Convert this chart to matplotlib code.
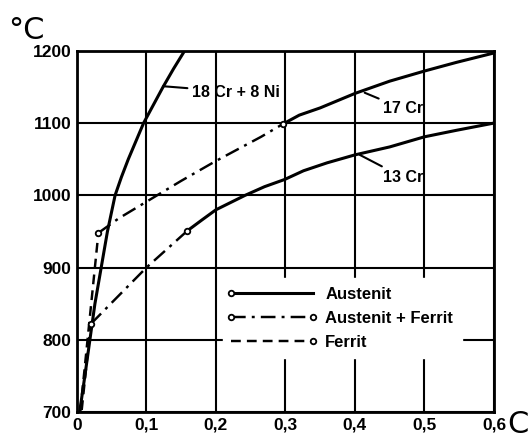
import matplotlib
matplotlib.use("Agg")
import matplotlib.pyplot as plt
from matplotlib.lines import Line2D
from matplotlib.legend_handler import HandlerBase

plt.rcParams['font.family'] = ['Liberation Sans', 'DejaVu Sans']

# 18 Cr + 8 Ni (austenit only)
cr18_x = [0.004, 0.0115, 0.026, 0.035, 0.044, 0.055, 0.064, 0.074, 0.085, 0.096, 0.11, 0.124, 0.139, 0.155]
cr18_y = [700, 750, 850, 900, 950, 1000, 1025, 1050, 1075, 1100, 1125, 1150, 1175, 1200]

# 17 Cr
cr17_ferrit_x = [0.005, 0.031]
cr17_ferrit_y = [702, 948]
cr17_af_x = [0.031, 0.06, 0.105, 0.150, 0.199, 0.23, 0.265, 0.297]
cr17_af_y = [948, 968, 994, 1020, 1047, 1063, 1081, 1099]
cr17_aus_x = [0.297, 0.32, 0.35, 0.4, 0.45, 0.5, 0.546, 0.6]
cr17_aus_y = [1099, 1111, 1121, 1141, 1158, 1172, 1184, 1197]

# 13 Cr
cr13_ferrit_x = [0.007, 0.02]
cr13_ferrit_y = [703, 822]
cr13_af_x = [0.02, 0.1, 0.159]
cr13_af_y = [822, 900, 951]
cr13_aus_x = [0.159, 0.18, 0.2, 0.242, 0.27, 0.299, 0.326, 0.36, 0.4, 0.45, 0.5, 0.546, 0.6]
cr13_aus_y = [951, 966, 980, 1000, 1012, 1022, 1034, 1045, 1056, 1067, 1081, 1090, 1100]

xticks = [0, 0.1, 0.2, 0.3, 0.4, 0.5, 0.6]
xlabels = ["0", "0,1", "0,2", "0,3", "0,4", "0,5", "0,6"]
yticks = [700, 800, 900, 1000, 1100, 1200]

lw = 2.2
dashdot = (0, (6, 2.5, 1.2, 2.5))
dashed = (0, (4, 2.5))
mk = dict(marker='o', markersize=4, markerfacecolor='white', markeredgecolor='black', markeredgewidth=1.3)


class EndMarkerHandler(HandlerBase):
    # legend line with open circles only at the chosen ends (0 = left, 1 = right)
    def __init__(self, ends):
        super().__init__()
        self.ends = ends

    def create_artists(self, legend, orig_handle, xdescent, ydescent, width, height, fontsize, trans):
        x0, x1 = -xdescent, width - xdescent
        y = height / 2 - ydescent
        line = Line2D([x0, x1], [y, y], color='black', lw=orig_handle.get_linewidth())
        line.update_from(orig_handle)
        xs = [x0 if e == 0 else x1 for e in self.ends]
        marks = Line2D(xs, [y] * len(xs), linestyle='none', **mk)
        line.set_transform(trans)
        marks.set_transform(trans)
        return [line, marks]


fig = plt.figure(figsize=(5.30, 4.38), dpi=100)
ax = fig.add_axes([0.145, 0.059, 0.787, 0.825])

ax.plot(cr18_x, cr18_y, color='black', lw=lw)

ax.plot(cr17_ferrit_x, cr17_ferrit_y, color='black', lw=lw * 0.8, linestyle=dashed)
ax.plot(cr17_af_x, cr17_af_y, color='black', lw=lw * 0.8, linestyle=dashdot)
ax.plot(cr17_aus_x, cr17_aus_y, color='black', lw=lw)
ax.plot(cr17_af_x[::len(cr17_af_x) - 1], cr17_af_y[::len(cr17_af_y) - 1], linestyle='none', zorder=4, **mk)

ax.plot(cr13_ferrit_x, cr13_ferrit_y, color='black', lw=lw * 0.8, linestyle=dashed)
ax.plot(cr13_af_x, cr13_af_y, color='black', lw=lw * 0.8, linestyle=dashdot)
ax.plot(cr13_aus_x, cr13_aus_y, color='black', lw=lw)
ax.plot(cr13_af_x[::len(cr13_af_x) - 1], cr13_af_y[::len(cr13_af_y) - 1], linestyle='none', zorder=4, **mk)

ax.set_xlim(0, 0.6)
ax.set_ylim(700, 1200)
ax.set_xticks(xticks)
ax.set_xticklabels(xlabels)
ax.set_yticks(yticks)
ax.tick_params(length=0, labelsize=12.5, pad=4)
for lab in ax.get_xticklabels() + ax.get_yticklabels():
    lab.set_fontweight('bold')
ax.grid(True, color='black', lw=1.5)
for s in ax.spines.values():
    s.set_linewidth(2)

# curve labels with leader lines
lead = dict(arrowstyle='-', lw=1.5, color='black', shrinkA=1, shrinkB=0)
ax.annotate("18 Cr + 8 Ni", xy=(0.124, 1151), xytext=(0.165, 1143),
            fontsize=11.5, fontweight='bold', va='center', arrowprops=lead)
ax.annotate("17 Cr", xy=(0.414, 1142), xytext=(0.44, 1120),
            fontsize=11.5, fontweight='bold', va='center', arrowprops=lead)
ax.annotate("13 Cr", xy=(0.407, 1056), xytext=(0.44, 1025),
            fontsize=11.5, fontweight='bold', va='center', arrowprops=lead)

# legend
h_aus = Line2D([], [], color='black', lw=lw)
h_af = Line2D([], [], color='black', lw=lw * 0.8, linestyle=dashdot)
h_fe = Line2D([], [], color='black', lw=lw * 0.8, linestyle=dashed)
leg = ax.legend([h_aus, h_af, h_fe], ["Austenit", "Austenit + Ferrit", "Ferrit"],
                loc='upper left', bbox_to_anchor=(0.35, 0.37),
                handler_map={h_aus: EndMarkerHandler([0]), h_af: EndMarkerHandler([0, 1]),
                             h_fe: EndMarkerHandler([1])},
                handlelength=4.9, handletextpad=0.75, labelspacing=0.55,
                borderpad=0.5, borderaxespad=0, frameon=True, fancybox=False,
                framealpha=1, edgecolor='white', prop=dict(size=12, weight='bold'))

fig.text(0.015, 0.93, "°C", fontsize=22, ha='left', va='center', family='DejaVu Sans')
fig.text(0.997, 0.030, "C", fontsize=22, ha='right', va='center', family='DejaVu Sans')

fig.savefig("out.png", dpi=100)
